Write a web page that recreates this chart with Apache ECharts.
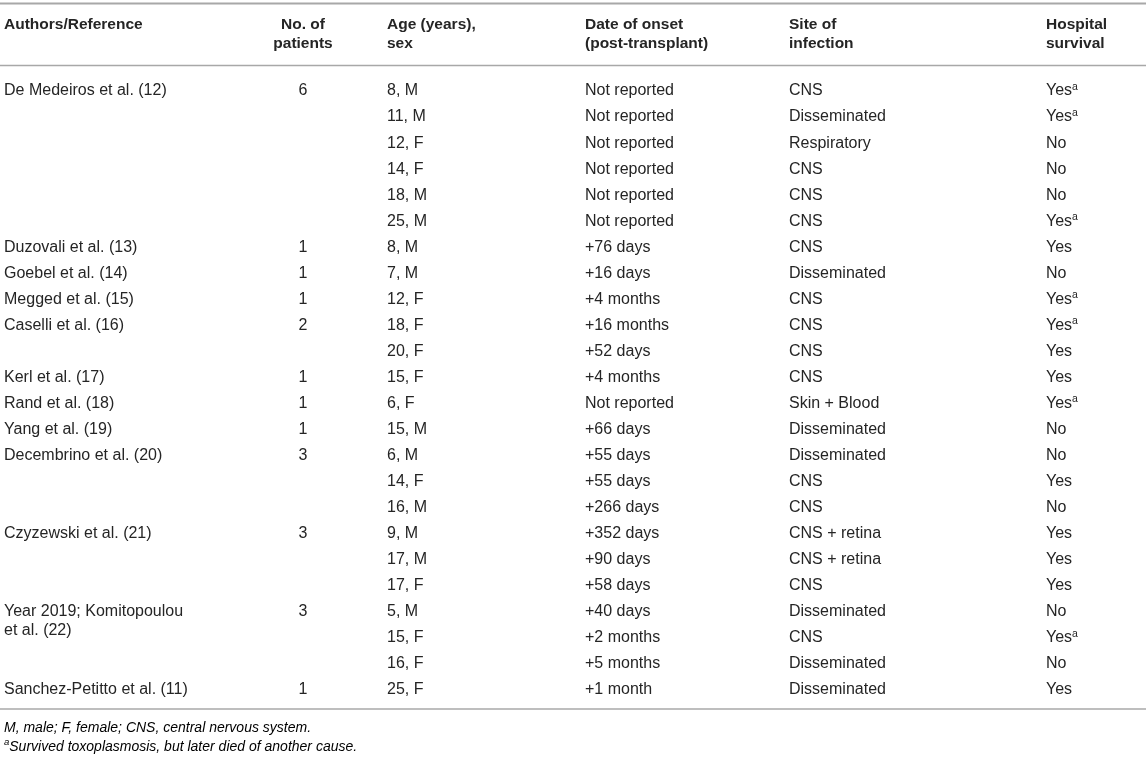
<!DOCTYPE html>
<html lang="en">
<head>
  <meta charset="UTF-8">
  <script src="https://cdn.jsdelivr.net/npm/echarts@6/dist/echarts.min.js"></script>
  <title>Toxoplasmosis cases</title>
  <style>
    html, body { margin: 0; padding: 0; background: #fff; }
    #table { width: 1146px; height: 758px; }
  </style>
</head>
<body>
  <div id="table"></div>

  <script>
    // column headers (two lines each)
    var headers = [
      'Authors/Reference',
      'No. of\npatients',
      'Age (years),\nsex',
      'Date of onset\n(post-transplant)',
      'Site of\ninfection',
      'Hospital\nsurvival'
    ];

    // one entry per study
    var authors = [
      'De Medeiros et al.',
      'Duzovali et al.',
      'Goebel et al.',
      'Megged et al.',
      'Caselli et al.',
      'Kerl et al.',
      'Rand et al.',
      'Yang et al.',
      'Decembrino et al.',
      'Czyzewski et al.',
      'Year 2019; Komitopoulou\net al.',
      'Sanchez-Petitto et al.'
    ];
    var refs = [12, 13, 14, 15, 16, 17, 18, 19, 20, 21, 22, 11];
    var patientCounts = [6, 1, 1, 1, 2, 1, 1, 1, 3, 3, 3, 1];

    // one entry per patient
    var ages = [
      '8, M', '11, M', '12, F', '14, F', '18, M', '25, M',
      '8, M', '7, M', '12, F', '18, F', '20, F', '15, F', '6, F', '15, M',
      '6, M', '14, F', '16, M', '9, M', '17, M', '17, F',
      '5, M', '15, F', '16, F', '25, F'
    ];
    var onsets = [
      'Not reported', 'Not reported', 'Not reported', 'Not reported', 'Not reported', 'Not reported',
      '+76 days', '+16 days', '+4 months', '+16 months', '+52 days', '+4 months', 'Not reported', '+66 days',
      '+55 days', '+55 days', '+266 days', '+352 days', '+90 days', '+58 days',
      '+40 days', '+2 months', '+5 months', '+1 month'
    ];
    var sites = [
      'CNS', 'Disseminated', 'Respiratory', 'CNS', 'CNS', 'CNS',
      'CNS', 'Disseminated', 'CNS', 'CNS', 'CNS', 'CNS', 'Skin + Blood', 'Disseminated',
      'Disseminated', 'CNS', 'CNS', 'CNS + retina', 'CNS + retina', 'CNS',
      'Disseminated', 'CNS', 'Disseminated', 'Disseminated'
    ];
    var survival = [
      'Yes', 'Yes', 'No', 'No', 'No', 'Yes',
      'Yes', 'No', 'Yes', 'Yes', 'Yes', 'Yes', 'Yes', 'No',
      'No', 'Yes', 'No', 'Yes', 'Yes', 'Yes',
      'No', 'Yes', 'No', 'Yes'
    ];
    // 1 = footnote "a" (survived toxoplasmosis, later died of another cause)
    var survivalNote = [
      1, 1, 0, 0, 0, 1,
      0, 0, 1, 1, 0, 0, 1, 0,
      0, 0, 0, 0, 0, 0,
      0, 1, 0, 0
    ];

    var footnotes = [
      'M, male; F, female; CNS, central nervous system.',
      'Survived toxoplasmosis, but later died of another cause.'
    ];

    // layout
    var W = 1146;
    var FONT = '"Liberation Sans", Arial, Helvetica, sans-serif';
    var FS = 16;
    var TEXT = '#252525';
    var REF = '#8a8a8a';
    var RULE = '#a8a8a8';
    var LH = 19;
    var NUDGE = 2; // glyphs sit a little low in the original
    // left edge of each column (the patients column is centred)
    var colX = [4, 303, 387, 585, 789, 1046];
    var colAlign = ['left', 'center', 'left', 'left', 'left', 'left'];

    // first patient row of every study
    var groupStart = {};
    var r = 0;
    for (var g = 0; g < authors.length; g++) {
      groupStart[r] = g;
      r += patientCounts[g];
    }

    var richStyles = {
      n: { fontSize: FS, fontFamily: FONT, color: TEXT, lineHeight: LH },
      r: { fontSize: FS, fontFamily: FONT, color: REF, lineHeight: LH },
      s: { fontSize: 10.5, fontFamily: FONT, color: TEXT, verticalAlign: 'top', lineHeight: 13 },
      i: { fontSize: 14, fontFamily: FONT, fontStyle: 'italic', color: TEXT, lineHeight: LH },
      is: { fontSize: 9.5, fontFamily: FONT, fontStyle: 'italic', color: TEXT, verticalAlign: 'top', lineHeight: 13 }
    };

    function authorRich(name, ref) {
      var lines = name.split('\n');
      var out = lines.map(function (l) { return '{n|' + l + '}'; });
      out[out.length - 1] = '{n|' + lines[lines.length - 1] + ' (}{r|' + ref + '}{n|)}';
      return out.join('\n');
    }

    function cell(x, y, text, align) {
      return {
        type: 'text',
        x: x,
        y: y - LH / 2 + NUDGE,
        style: {
          text: text,
          rich: richStyles,
          align: align,
          verticalAlign: 'top',
          font: FS + 'px ' + FONT,
          fill: TEXT,
          lineHeight: LH
        }
      };
    }

    function renderRow(params, api) {
      var i = api.value(1);
      var y = api.coord([0, i])[1];
      var kids = [];
      if (groupStart[i] !== undefined) {
        var g = groupStart[i];
        kids.push(cell(api.coord([colX[0], i])[0], y, authorRich(authors[g], refs[g]), colAlign[0]));
        kids.push(cell(api.coord([colX[1], i])[0], y, '{n|' + patientCounts[g] + '}', colAlign[1]));
      }
      kids.push(cell(api.coord([colX[2], i])[0], y, '{n|' + ages[i] + '}', 'left'));
      kids.push(cell(api.coord([colX[3], i])[0], y, '{n|' + onsets[i] + '}', 'left'));
      kids.push(cell(api.coord([colX[4], i])[0], y, '{n|' + sites[i] + '}', 'left'));
      var surv = '{n|' + survival[i] + '}' + (survivalNote[i] ? '{s|a}' : '');
      kids.push(cell(api.coord([colX[5], i])[0], y, surv, 'left'));
      return { type: 'group', children: kids };
    }

    var rowData = ages.map(function (_, i) { return [0, i]; });

    // header texts and rules
    var graphics = [];
    function rule(y, w) {
      return { type: 'line', shape: { x1: 0, y1: y, x2: W, y2: y }, style: { stroke: RULE, lineWidth: w } };
    }
    graphics.push(rule(3.5, 2));
    graphics.push(rule(65.5, 1.5));
    graphics.push(rule(709, 1.5));
    headers.forEach(function (h, k) {
      graphics.push({
        type: 'text',
        x: colX[k],
        y: 13.5 + NUDGE,
        style: {
          text: h,
          font: 'bold 15.5px ' + FONT,
          fill: TEXT,
          align: colAlign[k],
          verticalAlign: 'top',
          lineHeight: LH
        }
      });
    });
    graphics.push({
      type: 'text', x: 4, y: 727 - LH / 2 + 1,
      style: { text: '{i|' + footnotes[0] + '}\n{is|a}{i|' + footnotes[1] + '}', rich: richStyles, verticalAlign: 'top', lineHeight: LH }
    });

    var chartDom = document.getElementById('table');
    var myChart = echarts.init(chartDom);

    var option = {
      animation: false,
      backgroundColor: '#fff',
      grid: { left: 0, right: 0, top: 76, bottom: 57 },
      xAxis: { type: 'value', min: 0, max: W, show: false },
      yAxis: {
        type: 'category',
        inverse: true,
        show: false,
        data: ages.map(function (_, i) { return String(i); })
      },
      graphic: graphics,
      series: [{
        type: 'custom',
        renderItem: renderRow,
        data: rowData,
        encode: { x: 0, y: 1 },
        silent: true
      }]
    };

    myChart.setOption(option);
  </script>
</body>
</html>
